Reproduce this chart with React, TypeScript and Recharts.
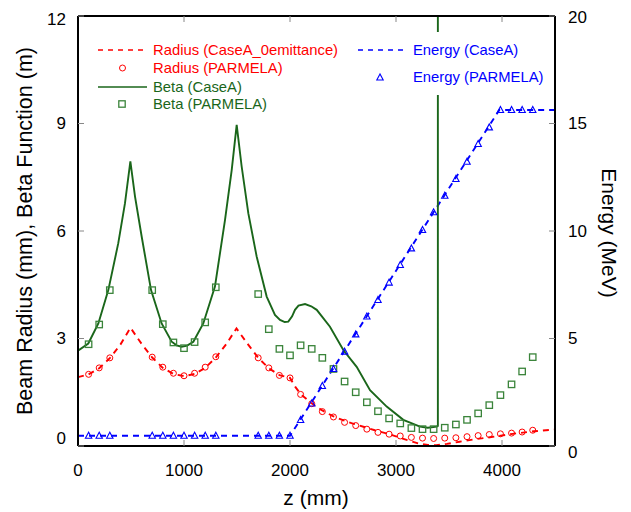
import React from "react"
import { ComposedChart, Line, Scatter, XAxis, YAxis } from "recharts"

const zTicks = [0, 1000, 2000, 3000, 4000]
const leftTicks = [0, 3, 6, 9, 12]
const rightTicks = [0, 5, 10, 15, 20]

// Beta (CaseA) - solid line, left axis
const betaLineZ = [
  0, 97, 192, 286, 380, 443, 494, 538, 601, 689, 789, 884, 930, 978, 1030, 1088, 1182, 1292, 1387, 1450,
  1497, 1544, 1607, 1686, 1780, 1858, 1906, 1950, 1984, 2020, 2047, 2080, 2142, 2200, 2252, 2377, 2503,
  2629, 2755, 2912, 3069, 3226, 3300, 3384, 3395, 3395,
]
const betaLineV = [
  2.66, 2.86, 3.42, 4.35, 5.66, 6.77, 7.94, 6.96, 5.84, 4.35, 3.42, 2.91, 2.81, 2.77, 2.8, 2.91, 3.42, 4.45, 6.31,
  7.7, 8.96, 7.8, 6.49, 5.28, 4.17, 3.66, 3.52, 3.46, 3.47, 3.62, 3.8, 3.92, 3.96, 3.9, 3.8, 3.33, 2.68, 2.21,
  1.56, 1.1, 0.73, 0.54, 0.51, 0.54, 0.56, 12,
]

// Radius (CaseA_0emittance) - dashed line, left axis
const radiusLineZ = [
  0, 100, 200, 300, 400, 495, 600, 700, 800, 900, 1000, 1100, 1200, 1300, 1400, 1495, 1600, 1700, 1800, 1900,
  2000, 2050, 2100, 2200, 2300, 2400, 2500, 2600, 2700, 2800, 2900, 3000, 3100, 3200, 3300, 3380, 3480, 3600,
  3750, 3900, 4100, 4300, 4500,
]
const radiusLineV = [
  1.92, 2.0, 2.17, 2.45, 2.83, 3.3, 2.85, 2.47, 2.18, 2.01, 1.95, 2.01, 2.18, 2.47, 2.85, 3.28, 2.85, 2.46, 2.17,
  1.98, 1.9, 1.65, 1.45, 1.2, 1.0, 0.84, 0.72, 0.62, 0.53, 0.44, 0.36, 0.27, 0.17, 0.08, 0.03, 0.02, 0.06, 0.12,
  0.19, 0.25, 0.34, 0.41, 0.46,
]

// Energy (CaseA) - dashed line, right axis
const energyLineZ = [0, 2000, 3975, 4500]
const energyLineV = [0.48, 0.48, 15.63, 15.63]

// PARMELA sample positions
const parmelaZ = [
  100, 200, 300, 700, 800, 900, 1000, 1100, 1200, 1300, 1700, 1800, 1900, 2000, 2100, 2205, 2305, 2410, 2515,
  2620, 2725, 2830, 2935, 3040, 3145, 3250, 3355, 3460, 3565, 3670, 3775, 3880, 3985, 4090, 4190, 4290,
]
const radiusParmela = [
  2.0, 2.18, 2.46, 2.48, 2.2, 2.03, 1.96, 2.03, 2.2, 2.49, 2.46, 2.18, 1.97, 1.9, 1.44, 1.18, 0.96, 0.81, 0.66,
  0.57, 0.47, 0.38, 0.33, 0.28, 0.24, 0.22, 0.21, 0.22, 0.23, 0.26, 0.29, 0.32, 0.34, 0.36, 0.39, 0.44,
]
const betaParmela = [
  2.84, 3.39, 4.35, 4.35, 3.4, 2.89, 2.73, 2.9, 3.45, 4.43, 4.24, 3.26, 2.71, 2.53, 2.81, 2.71, 2.46, 2.15, 1.8,
  1.5, 1.22, 0.97, 0.77, 0.63, 0.5, 0.47, 0.47, 0.51, 0.6, 0.73, 0.91, 1.14, 1.42, 1.72, 2.08, 2.48,
]
const energyParmela = [
  0.48, 0.48, 0.48, 0.48, 0.48, 0.48, 0.48, 0.48, 0.48, 0.48, 0.48, 0.48, 0.48, 0.48, 1.21, 1.98, 2.79, 3.58,
  4.39, 5.19, 6.02, 6.79, 7.6, 8.42, 9.19, 10.05, 10.87, 11.64, 12.42, 13.22, 14.05, 14.82, 15.63, 15.63, 15.63,
  15.63,
]

const zip = (zs: number[], vs: number[]) => zs.map((z, i) => ({ z, v: vs[i] }))

const RED = "#ff0000"
const GREEN = "#1a661a"
const GREEN_PT = "#3a843a"
const BLUE = "#0000ff"
const FONT = "'Liberation Sans', Arial, sans-serif"

const Circle = (p: any) => <circle cx={p.cx} cy={p.cy} r={3} fill="none" stroke={RED} strokeWidth={1} />
const Square = (p: any) => (
  <rect x={p.cx - 3.2} y={p.cy - 3.2} width={6.4} height={6.4} fill="none" stroke={GREEN_PT} strokeWidth={1.3} />
)
const Triangle = (p: any) => (
  <polygon
    points={`${p.cx},${p.cy - 3.5} ${p.cx - 3.2},${p.cy + 2.5} ${p.cx + 3.2},${p.cy + 2.5}`}
    fill="none"
    stroke={BLUE}
    strokeWidth={1.1}
  />
)

const tickStyle = { fontSize: 17, fill: "#000", fontFamily: FONT }
const tickLine = { stroke: "#888", strokeWidth: 1 }
const axisLine = { stroke: "#000", strokeWidth: 2 }

// the end labels on the value axes sit nudged away from the corners
const LeftTick = (p: any) => {
  const v = p.payload.value
  const dy = v === 0 ? -8 : v === 12 ? 3 : 0
  return (
    <text x={p.x} y={p.y + dy} textAnchor="end" dominantBaseline="central" fontSize={17} fontFamily={FONT} fill="#000">
      {v}
    </text>
  )
}
const RightTick = (p: any) => {
  const v = p.payload.value
  const dy = v === 0 ? 6 : v === 20 ? 1.5 : 0
  return (
    <text x={p.x} y={p.y + dy} textAnchor="start" dominantBaseline="central" fontSize={17} fontFamily={FONT} fill="#000">
      {v}
    </text>
  )
}

function LegendRow({ x, y, kind, color, text }: any) {
  return (
    <div style={{ position: "absolute", left: x, top: y - 10, height: 20, display: "flex", alignItems: "center" }}>
      <svg width={50} height={20} style={{ display: "block" }}>
        {kind === "dash" && <line x1={0} x2={49} y1={10} y2={10} stroke={color} strokeWidth={1.6} strokeDasharray="5 5" />}
        {kind === "solid" && <line x1={0} x2={49} y1={10} y2={10} stroke={color} strokeWidth={1.6} />}
        {kind === "circle" && <Circle cx={24.5} cy={10} />}
        {kind === "square" && <Square cx={24} cy={10} />}
        {kind === "triangle" && <Triangle cx={22} cy={10.5} />}
      </svg>
      <span style={{ marginLeft: 5, color, fontSize: 14.8, fontFamily: FONT, whiteSpace: "nowrap" }}>{text}</span>
    </div>
  )
}

export default function App() {
  return (
    <div style={{ position: "absolute", left: 0, top: 0, width: 631, height: 512, background: "#fff" }}>
      <ComposedChart width={631} height={512} margin={{ top: 15, right: 0, bottom: 0, left: 0 }}>
        <XAxis
          xAxisId="bottom"
          dataKey="z"
          type="number"
          domain={[0, 4500]}
          ticks={zTicks}
          interval={0}
          allowDataOverflow
          height={66}
          tickSize={-6}
          tickMargin={24}
          tick={tickStyle}
          tickLine={tickLine}
          axisLine={axisLine}
          label={{
            content: () => (
              <text x={316} y={505} textAnchor="middle" fontSize={21} fontFamily={FONT} fill="#000">
                z (mm)
              </text>
            ),
          }}
        />
        <XAxis
          xAxisId="top"
          dataKey="z"
          orientation="top"
          type="number"
          domain={[0, 4500]}
          ticks={zTicks}
          interval={0}
          allowDataOverflow
          height={1}
          tickSize={-6}
          tickFormatter={() => ""}
          tickLine={tickLine}
          axisLine={axisLine}
        />
        <YAxis
          yAxisId="left"
          type="number"
          domain={[0, 12]}
          ticks={leftTicks}
          interval={0}
          allowDataOverflow
          width={78}
          tickSize={-6}
          tickMargin={18}
          tick={LeftTick}
          tickLine={tickLine}
          axisLine={axisLine}
          label={{
            content: () => (
              <text
                x={25}
                y={231}
                transform="rotate(-90 25 231)"
                textAnchor="middle"
                dominantBaseline="central"
                fontSize={21.5}
                fontFamily={FONT}
                fill="#000"
              >
                Beam Radius (mm), Beta Function (m)
              </text>
            ),
          }}
        />
        <YAxis
          yAxisId="right"
          orientation="right"
          type="number"
          domain={[0, 20]}
          ticks={rightTicks}
          interval={0}
          allowDataOverflow
          width={76}
          tickSize={-6}
          tickMargin={19}
          tick={RightTick}
          tickLine={tickLine}
          axisLine={axisLine}
          label={{
            content: () => (
              <text
                x={609}
                y={233}
                transform="rotate(90 609 233)"
                textAnchor="middle"
                dominantBaseline="central"
                fontSize={21}
                fontFamily={FONT}
                fill="#000"
              >
                Energy (MeV)
              </text>
            ),
          }}
        />
        <Line
          xAxisId="bottom"
          yAxisId="right"
          data={zip(energyLineZ, energyLineV)}
          dataKey="v"
          type="linear"
          stroke={BLUE}
          strokeWidth={1.9}
          strokeDasharray="6 5"
          dot={false}
          isAnimationActive={false}
        />
        <Line
          xAxisId="bottom"
          yAxisId="left"
          data={zip(radiusLineZ, radiusLineV)}
          dataKey="v"
          type="linear"
          stroke={RED}
          strokeWidth={1.9}
          strokeDasharray="6 5"
          dot={false}
          isAnimationActive={false}
        />
        <Line
          xAxisId="bottom"
          yAxisId="left"
          data={zip(betaLineZ, betaLineV)}
          dataKey="v"
          type="linear"
          stroke={GREEN}
          strokeWidth={1.9}
          dot={false}
          isAnimationActive={false}
        />
        <Scatter
          xAxisId="bottom"
          yAxisId="left"
          data={zip(parmelaZ, radiusParmela)}
          dataKey="v"
          shape={Circle}
          isAnimationActive={false}
        />
        <Scatter
          xAxisId="bottom"
          yAxisId="left"
          data={zip(parmelaZ, betaParmela)}
          dataKey="v"
          shape={Square}
          isAnimationActive={false}
        />
        <Scatter
          xAxisId="bottom"
          yAxisId="right"
          data={zip(parmelaZ, energyParmela)}
          dataKey="v"
          shape={Triangle}
          isAnimationActive={false}
        />
      </ComposedChart>
      <div style={{ position: "absolute", left: 92, top: 36, width: 250, height: 76, background: "#fff" }} />
      <div style={{ position: "absolute", left: 352, top: 32, width: 196, height: 63, background: "#fff" }} />
      <LegendRow x={98} y={49.5} kind="dash" color={RED} text="Radius (CaseA_0emittance)" />
      <LegendRow x={98} y={68} kind="circle" color={RED} text="Radius (PARMELA)" />
      <LegendRow x={98} y={86.5} kind="solid" color={GREEN} text="Beta (CaseA)" />
      <LegendRow x={98} y={103.5} kind="square" color={GREEN} text="Beta (PARMELA)" />
      <LegendRow x={358} y={50} kind="dash" color={BLUE} text="Energy (CaseA)" />
      <LegendRow x={358} y={77} kind="triangle" color={BLUE} text="Energy (PARMELA)" />
    </div>
  )
}
